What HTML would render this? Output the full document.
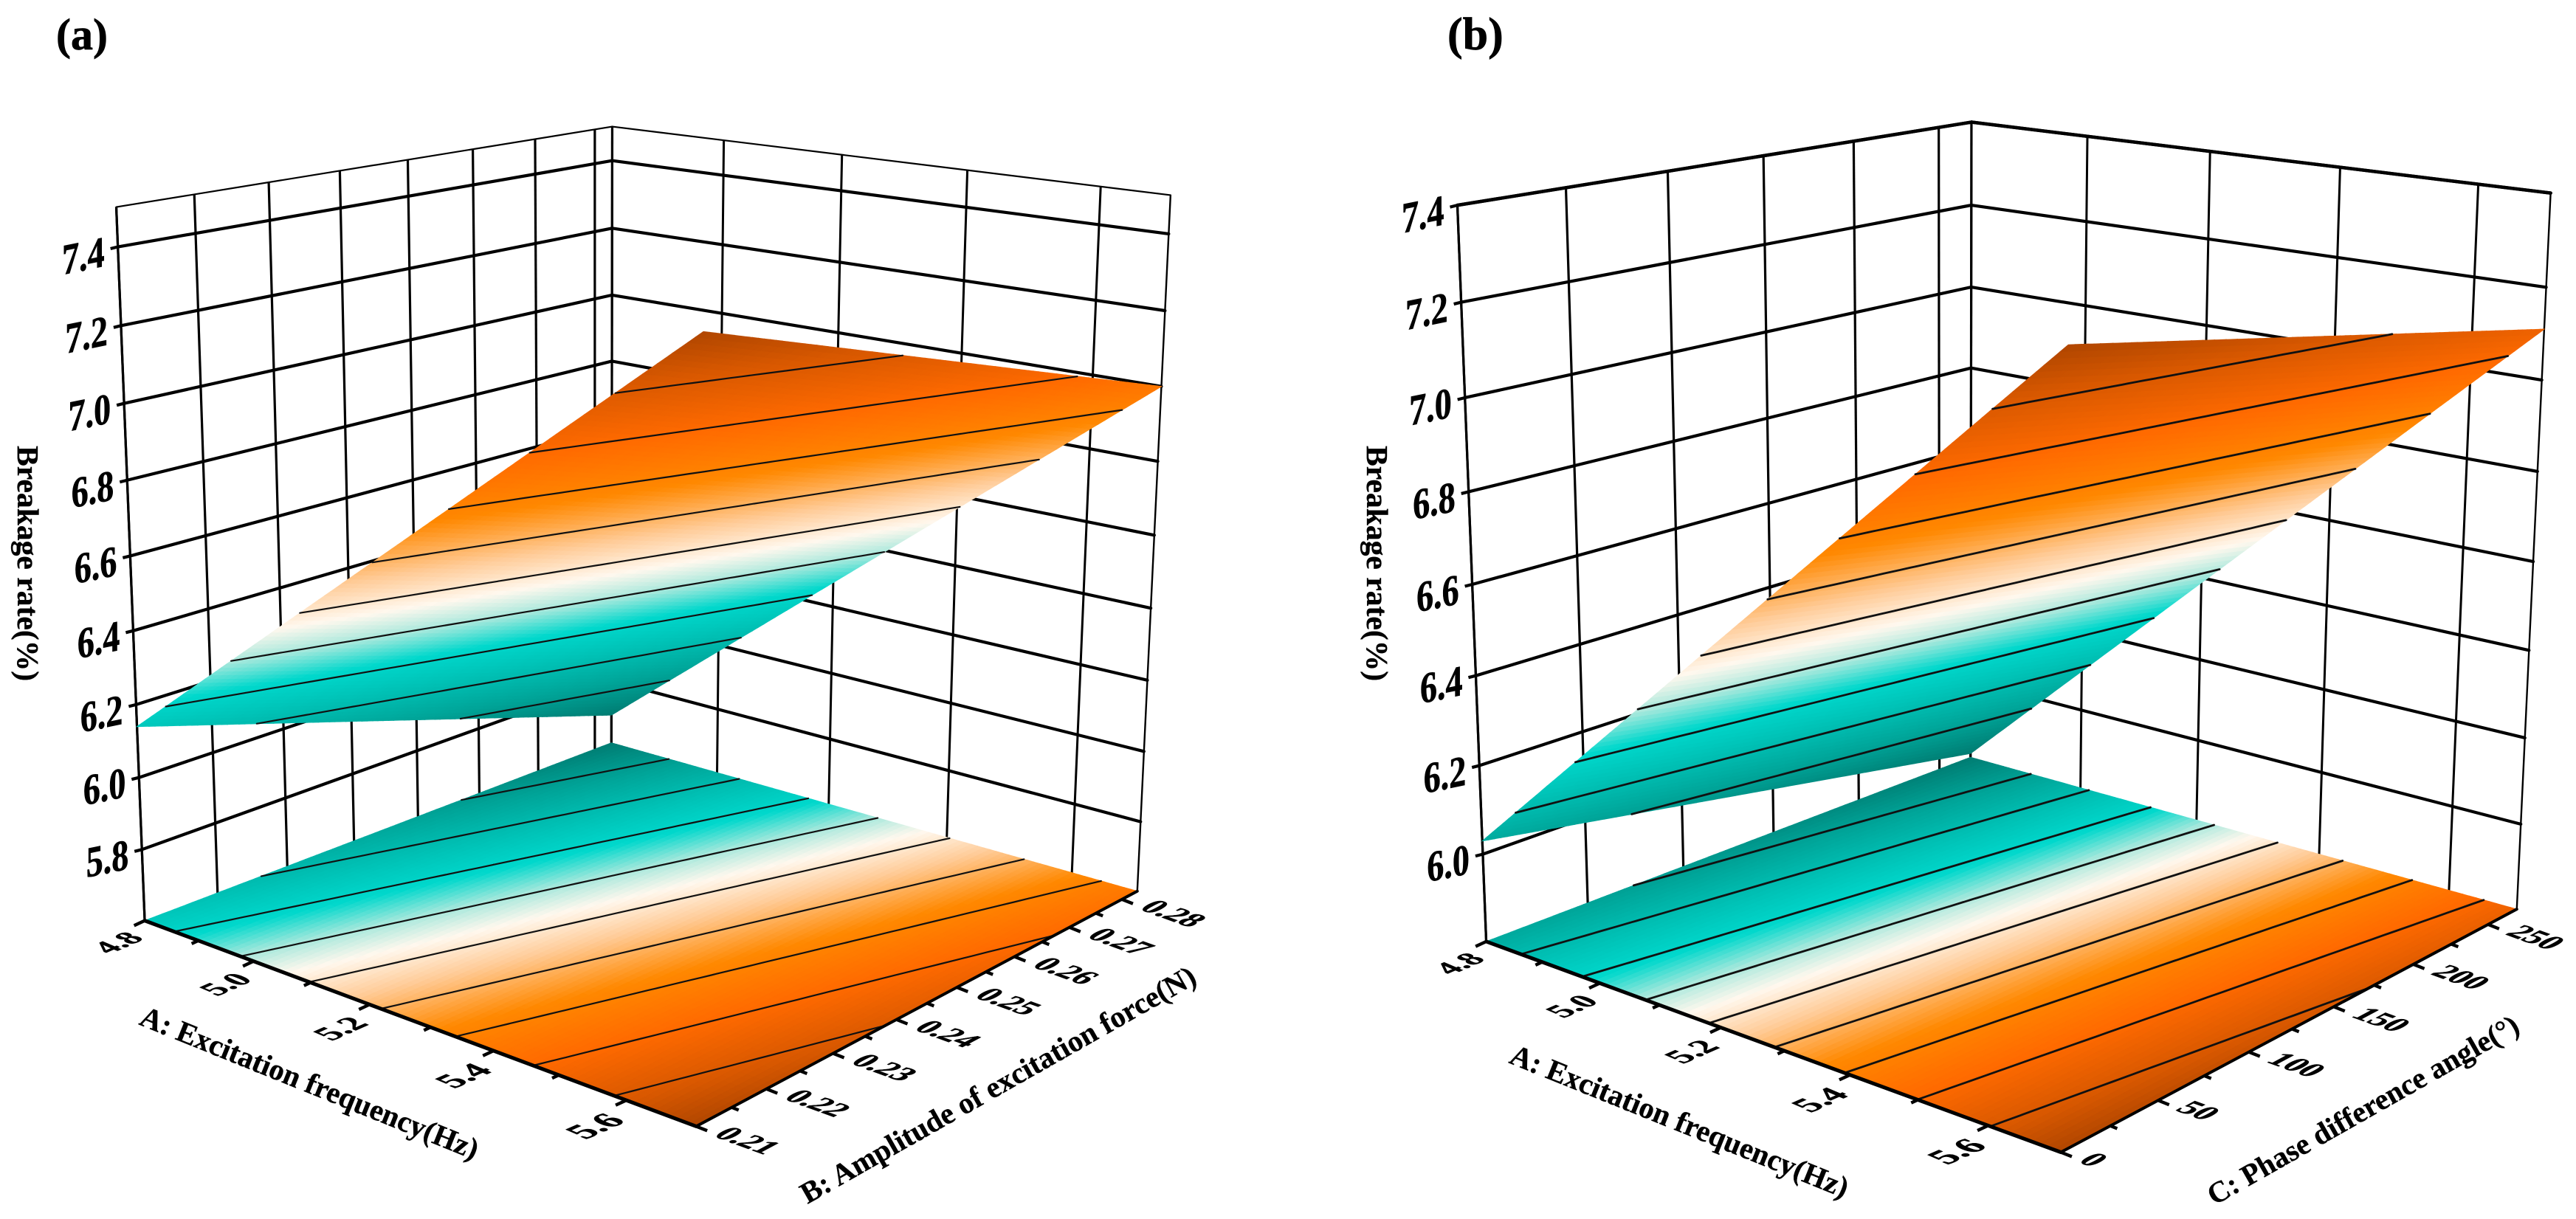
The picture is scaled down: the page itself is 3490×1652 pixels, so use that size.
<!DOCTYPE html>
<html lang="en">
<head>
<meta charset="utf-8">
<title>Breakage rate response surfaces</title>
<style>
html,body{margin:0;padding:0;background:#fff;}
svg{display:block;}
text{font-family:"Liberation Serif","Times New Roman",serif;font-weight:bold;fill:#000;}
.heavy{stroke:#000;stroke-width:0.7px;}
.title{stroke:#000;stroke-width:0.35px;}
</style>
</head>
<body>
<svg id="figure" xmlns="http://www.w3.org/2000/svg" width="3490" height="1652" viewBox="0 0 3490 1652">
  <rect x="0" y="0" width="3490" height="1652" fill="#fff"/>
  <g id="panel-a"></g>
  <g id="panel-b"></g>

  <text class="heavy" x="76" y="67" font-size="60">(a)</text>
  <text class="heavy" x="1961" y="67" font-size="62">(b)</text>

  <text class="title" transform="translate(24,604) rotate(90)" font-size="41.6">Breakage rate(%)</text>
  <text class="title" transform="translate(187,1388) rotate(22)" font-size="40.6">A: Excitation frequency(Hz)</text>
  <text class="title" transform="translate(1094,1632) rotate(-29.6)" font-size="40.5">B: Amplitude of excitation force(N)</text>

  <text class="title" transform="translate(1852,604) rotate(90)" font-size="41.6">Breakage rate(%)</text>
  <text class="title" transform="translate(2043,1440) rotate(22)" font-size="40.6">A: Excitation frequency(Hz)</text>
  <text class="title" transform="translate(3000,1634) rotate(-29.6)" font-size="40.2">C: Phase difference angle(°)</text>
</svg>

<script>
/* ---------- Panel (a) data ---------- */
const panelAFrequencyGrid = [4.8, 5.7];
const panelAForceGrid = [0.21, 0.283];
const panelASurface = [
  [6.14, 5.69],
  [7.44, 7.00]
];
const panelAContourLevels = [5.85, 6.04, 6.22, 6.395, 6.57, 6.745, 6.92, 7.095, 7.27];
const panelAZRange = [5.6, 7.5];
const panelAZTicks = [5.8, 6.0, 6.2, 6.4, 6.6, 6.8, 7.0, 7.2, 7.4];
const panelAZTickLabels = ['5.8', '6.0', '6.2', '6.4', '6.6', '6.8', '7.0', '7.2', '7.4'];
const panelAFrequencyTicks = [4.8, 5.0, 5.2, 5.4, 5.6];
const panelAFrequencyLabels = ['4.8', '5.0', '5.2', '5.4', '5.6'];
const panelAFrequencyMinor = [4.9, 5.1, 5.3, 5.5];
const panelAForceTicks = [0.21, 0.22, 0.23, 0.24, 0.25, 0.26, 0.27, 0.28];
const panelAForceLabels = ['0.21', '0.22', '0.23', '0.24', '0.25', '0.26', '0.27', '0.28'];
const panelAForceMinor = [0.215, 0.225, 0.235, 0.245, 0.255, 0.265, 0.275];

/* ---------- Panel (b) data ---------- */
const panelBFrequencyGrid = [4.8, 5.7];
const panelBPhaseGrid = [0, 270];
const panelBSurface = [
  [6.03, 5.81],
  [7.33, 7.11]
];
const panelBContourLevels = [5.97, 6.12, 6.275, 6.43, 6.58, 6.73, 6.885, 7.04, 7.19];
const panelBZRange = [5.8, 7.4];
const panelBZTicks = [6.0, 6.2, 6.4, 6.6, 6.8, 7.0, 7.2, 7.4];
const panelBZTickLabels = ['6.0', '6.2', '6.4', '6.6', '6.8', '7.0', '7.2', '7.4'];
const panelBFrequencyTicks = [4.8, 5.0, 5.2, 5.4, 5.6];
const panelBFrequencyLabels = ['4.8', '5.0', '5.2', '5.4', '5.6'];
const panelBFrequencyMinor = [4.9, 5.1, 5.3, 5.5];
const panelBPhaseTicks = [0, 50, 100, 150, 200, 250];
const panelBPhaseLabels = ['0', '50', '100', '150', '200', '250'];
const panelBPhaseMinor = [25, 75, 125, 175, 225];

/* ---------- Colour ramp (fraction of the surface range, colour) ---------- */
const rampFractions = [0, 0.12, 0.24, 0.32, 0.40, 0.47, 0.56, 0.68, 0.80, 0.92, 1];
const rampColours = ['#007c72', '#00a498', '#00c4b8', '#00d8cc', '#a8e8dc', '#fff8ee', '#ffcc99', '#ff8800', '#ff6a00', '#d85800', '#b04600'];

/* ---------- View calibration: data-space corner, then where it sits on the page ---------- */
const panelACamera = [
  [4.8, 0.21, 7.5, 158, 280], [4.8, 0.283, 7.5, 829, 171], [5.7, 0.283, 7.5, 1586, 265],
  [4.8, 0.21, 5.6, 198, 1246], [4.8, 0.283, 5.6, 829, 1008], [5.7, 0.283, 5.6, 1541, 1206],
  [5.7, 0.21, 5.6, 946, 1526], [4.8, 0.283, 7.0, 829, 400], [4.8, 0.21, 7.0, 169, 548],
  [5.7, 0.283, 7.0, 1573, 525], [5.2, 0.283, 7.5, 1141, 209], [4.8, 0.25, 7.5, 552, 216],
  [5.2, 0.21, 5.6, 495, 1363]
];
const panelBCamera = [
  [4.8, 0, 7.4, 1973, 278], [4.8, 270, 7.4, 2671, 165], [5.7, 270, 7.4, 3457, 262],
  [4.8, 0, 5.8, 2015, 1275], [4.8, 270, 5.8, 2671, 1026], [5.7, 270, 5.8, 3409, 1233],
  [5.7, 0, 5.8, 2797, 1559], [4.8, 270, 7.0, 2671, 389], [4.8, 0, 7.0, 1988, 540],
  [5.7, 270, 7.0, 3442, 515], [5.2, 270, 7.4, 2994, 205], [4.8, 150, 7.4, 2388, 211],
  [5.2, 0, 5.8, 2324, 1395]
];

const SVG_NS = 'http://www.w3.org/2000/svg';
const CELLS = 90;
const CONTOUR_CELLS = 40;

function make(parent, tag, attrs) {
  const node = document.createElementNS(SVG_NS, tag);
  Object.keys(attrs).forEach(function (k) { node.setAttribute(k, attrs[k]); });
  parent.appendChild(node);
  return node;
}

function solveLinear(M, y) {
  const n = y.length;
  for (let c = 0; c < n; c++) {
    let best = c;
    for (let r = c + 1; r < n; r++) if (Math.abs(M[r][c]) > Math.abs(M[best][c])) best = r;
    const tmp = M[c]; M[c] = M[best]; M[best] = tmp;
    const ty = y[c]; y[c] = y[best]; y[best] = ty;
    for (let r = c + 1; r < n; r++) {
      const f = M[r][c] / M[c][c];
      for (let k = c; k < n; k++) M[r][k] -= f * M[c][k];
      y[r] -= f * y[c];
    }
  }
  const out = new Array(n).fill(0);
  for (let r = n - 1; r >= 0; r--) {
    let s = y[r];
    for (let k = r + 1; k < n; k++) s -= M[r][k] * out[k];
    out[r] = s / M[r][r];
  }
  return out;
}

function fitProjection(points, norm) {
  const rows = [], rhs = [];
  points.forEach(function (p) {
    const q = norm(p[0], p[1], p[2]);
    const x = p[3] / 1000, y = p[4] / 1000;
    rows.push([q[0], q[1], q[2], 1, 0, 0, 0, 0, -x * q[0], -x * q[1], -x * q[2]]); rhs.push(x);
    rows.push([0, 0, 0, 0, q[0], q[1], q[2], 1, -y * q[0], -y * q[1], -y * q[2]]); rhs.push(y);
  });
  const N = [], v = [];
  for (let i = 0; i < 11; i++) {
    N.push(new Array(11).fill(0));
    v.push(0);
    rows.forEach(function (row, r) {
      for (let j = 0; j < 11; j++) N[i][j] += row[i] * row[j];
      v[i] += row[i] * rhs[r];
    });
  }
  return solveLinear(N, v);
}

function hexToRgb(h) {
  return [parseInt(h.slice(1, 3), 16), parseInt(h.slice(3, 5), 16), parseInt(h.slice(5, 7), 16)];
}

function rampColour(t) {
  const f = Math.max(0, Math.min(1, t));
  let i = 0;
  while (i < rampFractions.length - 2 && f > rampFractions[i + 1]) i++;
  const k = (f - rampFractions[i]) / (rampFractions[i + 1] - rampFractions[i]);
  const a = hexToRgb(rampColours[i]), b = hexToRgb(rampColours[i + 1]);
  return 'rgb(' + Math.round(a[0] + (b[0] - a[0]) * k) + ',' + Math.round(a[1] + (b[1] - a[1]) * k) + ',' + Math.round(a[2] + (b[2] - a[2]) * k) + ')';
}

function buildPanel(cfg) {
  const root = document.getElementById(cfg.id);
  const a0 = cfg.aGrid[0], a1 = cfg.aGrid[cfg.aGrid.length - 1];
  const b0 = cfg.bGrid[0], b1 = cfg.bGrid[cfg.bGrid.length - 1];
  const z0 = cfg.zRange[0], z1 = cfg.zRange[1];

  function norm(a, b, z) { return [(a - a0) / (a1 - a0), (b - b0) / (b1 - b0), (z - z0) / (z1 - z0)]; }
  const p = fitProjection(cfg.camera, norm);
  function project(a, b, z) {
    const q = norm(a, b, z);
    const d = p[8] * q[0] + p[9] * q[1] + p[10] * q[2] + 1;
    return [
      1000 * (p[0] * q[0] + p[1] * q[1] + p[2] * q[2] + p[3]) / d,
      1000 * (p[4] * q[0] + p[5] * q[1] + p[6] * q[2] + p[7]) / d
    ];
  }

  function surfaceZ(a, b) {
    const u = (a - a0) / (a1 - a0) * (cfg.aGrid.length - 1);
    const v = (b - b0) / (b1 - b0) * (cfg.bGrid.length - 1);
    const i = Math.max(0, Math.min(Math.floor(u), cfg.aGrid.length - 2));
    const j = Math.max(0, Math.min(Math.floor(v), cfg.bGrid.length - 2));
    const s = u - i, t = v - j;
    return (1 - s) * (1 - t) * cfg.surface[i][j] + s * (1 - t) * cfg.surface[i + 1][j] +
           (1 - s) * t * cfg.surface[i][j + 1] + s * t * cfg.surface[i + 1][j + 1];
  }

  let zLow = Infinity, zHigh = -Infinity;
  cfg.surface.forEach(function (row) {
    row.forEach(function (z) { zLow = Math.min(zLow, z); zHigh = Math.max(zHigh, z); });
  });
  function colourOf(z) { return rampColour((z - zLow) / (zHigh - zLow)); }

  /* ---- walls ---- */
  const walls = make(root, 'g', { fill: 'none', stroke: '#000' });
  
  

  function segment(parent, p1, p2, width, cap) {
    return make(parent, 'line', { x1: p1[0], y1: p1[1], x2: p2[0], y2: p2[1], 'stroke-width': width, 'stroke-linecap': cap || 'butt', stroke: '#000' });
  }

  cfg.bTicks.concat([b0, b1]).forEach(function (b) {
    const ln = segment(walls, project(a0, b, z0), project(a0, b, z1), 3.2);
    
    
  });
  cfg.aTicks.concat([a1]).forEach(function (a) {
    const ln = segment(walls, project(a, b1, z0), project(a, b1, z1), a === a1 ? 2.4 : 3);
    
    
  });

  cfg.zTicks.forEach(function (z, k) {
    const isTop = Math.abs(z - z1) < 1e-9;
    const corner = project(a0, b1, z);
    const leftEnd = project(a0, b0, z);
    const rightEnd = project(a1, b1, z);
    const w = isTop ? cfg.topWidth : 4.2;

    const leftLine = segment(walls, leftEnd, corner, w, 'round');
    
    

    const rightLine = segment(walls, corner, rightEnd, w, 'round');
    
    

    const tick = segment(walls, leftEnd, [leftEnd[0] - 10, leftEnd[1] + 2.5], 4.2);
    
    

    const label = make(root, 'text', {
      'font-size': 59,
      'text-anchor': 'end',
      class: 'heavy',
      transform: 'matrix(0.78,-0.16,0,1,' + (leftEnd[0] - 18) + ',' + (leftEnd[1] + 26) + ')'
    });
    label.textContent = cfg.zLabels[k];
    
    
  });

  if (cfg.drawTopEdge) {
    const a = segment(walls, project(a0, b0, z1), project(a0, b1, z1), cfg.topWidth, 'round');
    
    
    const b = segment(walls, project(a0, b1, z1), project(a1, b1, z1), cfg.topWidth, 'round');
    
    
  }

  /* ---- shared surface painter ---- */
  function paintSheet(name, zAt) {
    const g = make(root, 'g', {});
    
    
    for (let i = 0; i < CELLS; i++) {
      for (let j = 0; j < CELLS; j++) {
        const aL = a0 + (a1 - a0) * i / CELLS, aH = a0 + (a1 - a0) * (i + 1) / CELLS;
        const bL = b0 + (b1 - b0) * j / CELLS, bH = b0 + (b1 - b0) * (j + 1) / CELLS;
        const c1 = project(aL, bL, zAt(aL, bL));
        const c2 = project(aH, bL, zAt(aH, bL));
        const c3 = project(aH, bH, zAt(aH, bH));
        const c4 = project(aL, bH, zAt(aL, bH));
        const colour = colourOf(surfaceZ((aL + aH) / 2, (bL + bH) / 2));
        const cell = make(g, 'polygon', {
          points: [c1, c2, c3, c4].map(function (c) { return c[0].toFixed(1) + ',' + c[1].toFixed(1); }).join(' '),
          fill: colour, stroke: colour, 'stroke-width': 1
        });
        
        
      }
    }
  }

  function paintContours(name, zAt, width) {
    const g = make(root, 'g', { fill: 'none', stroke: '#111' });
    
    
    cfg.levels.forEach(function (rawLevel) {
      const level = rawLevel + 1.37e-7;
      let d = '';
      for (let i = 0; i < CONTOUR_CELLS; i++) {
        for (let j = 0; j < CONTOUR_CELLS; j++) {
          const aL = a0 + (a1 - a0) * i / CONTOUR_CELLS, aH = a0 + (a1 - a0) * (i + 1) / CONTOUR_CELLS;
          const bL = b0 + (b1 - b0) * j / CONTOUR_CELLS, bH = b0 + (b1 - b0) * (j + 1) / CONTOUR_CELLS;
          const corners = [[aL, bL], [aH, bL], [aH, bH], [aL, bH]];
          const hits = [];
          for (let e = 0; e < 4; e++) {
            const s = corners[e], t = corners[(e + 1) % 4];
            const zs = surfaceZ(s[0], s[1]), zt = surfaceZ(t[0], t[1]);
            if ((zs - level) * (zt - level) < 0) {
              const f = (level - zs) / (zt - zs);
              const ah = s[0] + (t[0] - s[0]) * f, bh = s[1] + (t[1] - s[1]) * f;
              hits.push(project(ah, bh, zAt(ah, bh)));
            }
          }
          if (hits.length >= 2) {
            d += 'M' + hits[0][0].toFixed(1) + ' ' + hits[0][1].toFixed(1) + 'L' + hits[1][0].toFixed(1) + ' ' + hits[1][1].toFixed(1);
          }
        }
      }
      const path = make(g, 'path', { d: d, 'stroke-width': width, 'stroke-linecap': 'round' });
      
      
    });
  }

  /* ---- floor projection ---- */
  paintSheet('floor-contour-map', function () { return z0; });
  paintContours('floor-contour-lines', function () { return z0; }, cfg.contourWidth);

  /* ---- axes ---- */
  const axes = make(root, 'g', {});
  
  

  const axisA = segment(axes, project(a0, b0, z0), project(a1, b0, z0), 5, 'round');
  
  

  const axisB = segment(axes, project(a1, b0, z0), project(a1, b1, z0), 4, 'round');
  
  

  function aTick(a, len) {
    const s = project(a, b0, z0);
    const t = segment(axes, s, [s[0] - 0.9 * len, s[1] + 0.42 * len], 4.4);
    
    
  }
  function bTick(b, len) {
    const s = project(a1, b, z0);
    const t = segment(axes, s, [s[0] + 0.93 * len, s[1] + 0.37 * len], 4.4);
    
    
  }

  cfg.aTicks.forEach(function (a) { aTick(a, 16); });
  cfg.aMinor.forEach(function (a) { aTick(a, 10); });
  cfg.bTicks.forEach(function (b) { bTick(b, 16); });
  cfg.bMinor.forEach(function (b) { bTick(b, 10); });

  cfg.aTicks.forEach(function (a, k) {
    const s = project(a, b0, z0);
    const scale = 0.9 + 0.17 * (a - a0) / (a1 - a0);
    const m = [0.95 * scale, -0.42 * scale, 0.95 * scale, 0.40 * scale, s[0] - 53 * scale, s[1] + 51 * scale];
    const label = make(root, 'text', { 'font-size': 45, class: 'heavy', transform: 'matrix(' + m.join(',') + ')' });
    label.textContent = cfg.aLabels[k];
    
    
  });

  cfg.bTicks.forEach(function (b, k) {
    const s = project(a1, b, z0);
    const m = [0.94, 0.34, -0.88, 0.47, s[0] + 22, s[1] + 13];
    const label = make(root, 'text', { 'font-size': 43, class: 'heavy', transform: 'matrix(' + m.join(',') + ')' });
    label.textContent = cfg.bLabels[k];
    
    
  });

  /* ---- response surface ---- */
  paintSheet('response-surface', surfaceZ);
  paintContours('response-surface-contours', surfaceZ, cfg.contourWidth);
}

buildPanel({
  id: 'panel-a',
  aGrid: panelAFrequencyGrid, bGrid: panelAForceGrid, surface: panelASurface,
  levels: panelAContourLevels, zRange: panelAZRange, zTicks: panelAZTicks, zLabels: panelAZTickLabels,
  aTicks: panelAFrequencyTicks, aLabels: panelAFrequencyLabels, aMinor: panelAFrequencyMinor,
  bTicks: panelAForceTicks, bLabels: panelAForceLabels, bMinor: panelAForceMinor,
  camera: panelACamera, topWidth: 2.2, contourWidth: 2.2, drawTopEdge: true
});

buildPanel({
  id: 'panel-b',
  aGrid: panelBFrequencyGrid, bGrid: panelBPhaseGrid, surface: panelBSurface,
  levels: panelBContourLevels, zRange: panelBZRange, zTicks: panelBZTicks, zLabels: panelBZTickLabels,
  aTicks: panelBFrequencyTicks, aLabels: panelBFrequencyLabels, aMinor: panelBFrequencyMinor,
  bTicks: panelBPhaseTicks, bLabels: panelBPhaseLabels, bMinor: panelBPhaseMinor,
  camera: panelBCamera, topWidth: 4.5, contourWidth: 2.8, drawTopEdge: true
});
</script>
</body>
</html>
